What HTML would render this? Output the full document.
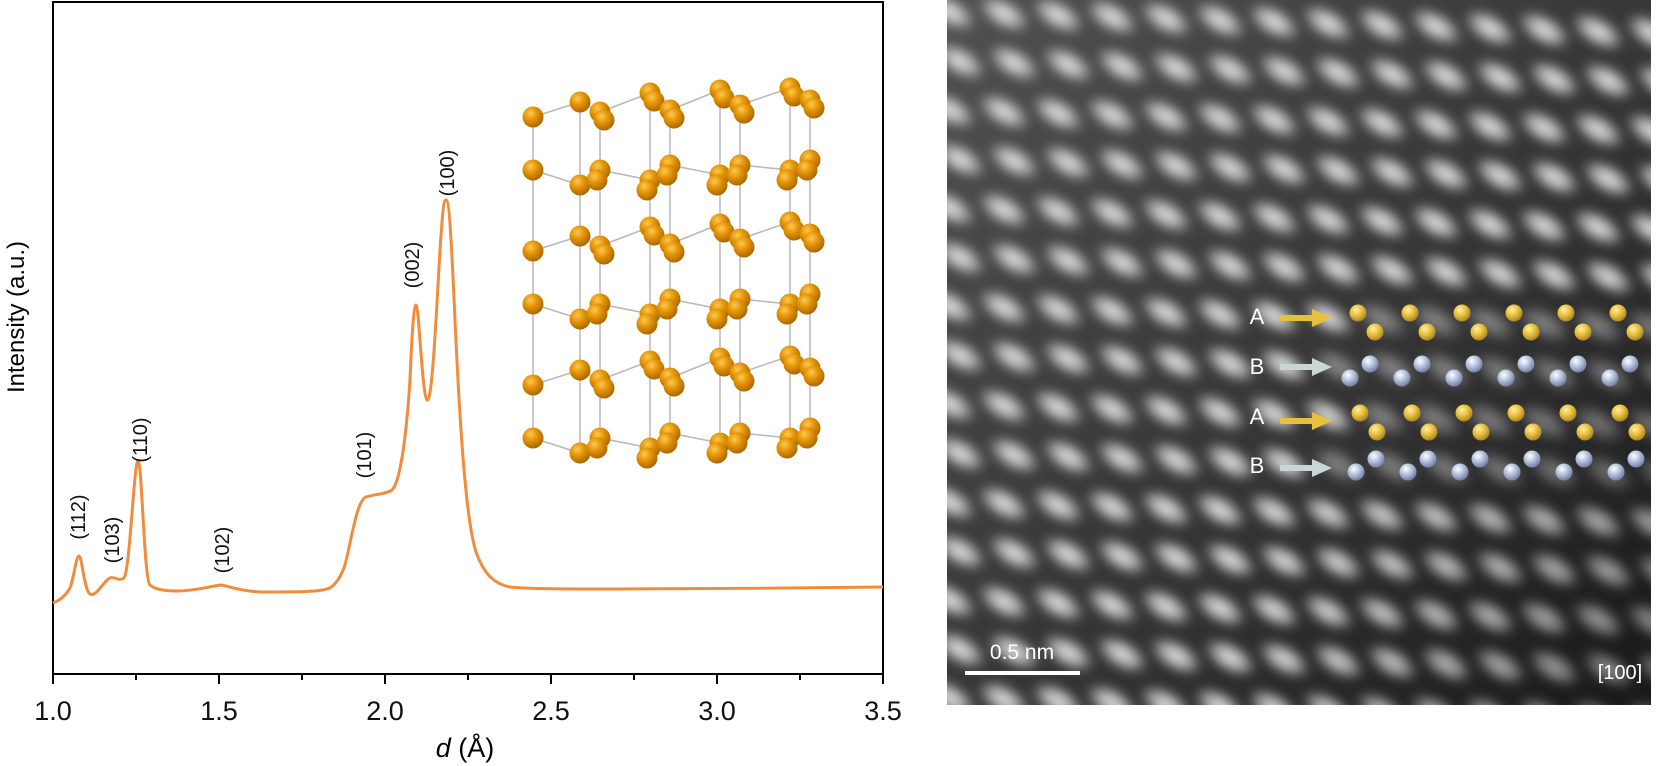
<!DOCTYPE html>
<html><head><meta charset="utf-8"><style>
html,body{margin:0;padding:0;background:#fff;}
svg{display:block;font-family:"Liberation Sans",Arial,sans-serif;}
</style></head><body>
<svg id="s" width="1658" height="766" viewBox="0 0 1658 766" xmlns="http://www.w3.org/2000/svg">
<defs>
<radialGradient id="au" cx="0.38" cy="0.32" r="0.7"><stop offset="0" stop-color="#ffc850"/><stop offset="0.5" stop-color="#e09000"/><stop offset="1" stop-color="#a86600"/></radialGradient>
<radialGradient id="ya" cx="0.38" cy="0.32" r="0.7"><stop offset="0" stop-color="#fff0a0"/><stop offset="0.5" stop-color="#e8c040"/><stop offset="1" stop-color="#a88420"/></radialGradient>
<radialGradient id="ba" cx="0.38" cy="0.32" r="0.7"><stop offset="0" stop-color="#ffffff"/><stop offset="0.5" stop-color="#b4c0dc"/><stop offset="1" stop-color="#7080a0"/></radialGradient>
<radialGradient id="blob"><stop offset="0" stop-color="#eaeaea"/><stop offset="0.5" stop-color="#c0c0c0" stop-opacity="0.85"/><stop offset="1" stop-color="#909090" stop-opacity="0"/></radialGradient>
<linearGradient id="bg" x1="0" y1="0" x2="1" y2="1"><stop offset="0" stop-color="#505050"/><stop offset="0.6" stop-color="#323232"/><stop offset="1" stop-color="#181818"/></linearGradient>
<filter id="bl" x="-30%" y="-30%" width="160%" height="160%"><feGaussianBlur stdDeviation="5"/></filter>
<clipPath id="ic"><rect x="947" y="0" width="704" height="705"/></clipPath>
</defs>
<rect x="53" y="2" width="830" height="672" fill="none" stroke="#000" stroke-width="2"/>
<g stroke="#000" stroke-width="2" id="ticks"></g>
<g font-size="27" text-anchor="middle" fill="#111">
<text x="53" y="720">1.0</text><text x="219" y="720">1.5</text><text x="385" y="720">2.0</text>
<text x="551" y="720">2.5</text><text x="717" y="720">3.0</text><text x="883" y="720">3.5</text>
</g>
<text x="465" y="757" font-size="27" text-anchor="middle"><tspan font-style="italic">d</tspan> (Å)</text>
<text transform="translate(24,317) rotate(-90)" font-size="24" text-anchor="middle">Intensity (a.u.)</text>
<path d="M53,603 C58,601 64,598 70,588 C74,578 76,556 79,556 C82,556 84,590 90,594 C96,598 104,580 110,578 C115,576 118,582 124,578 C130,570 134,461 138,461 C142,461 144,580 150,585 C156,590 165,591 180,591 C200,590 212,586 221,585 C228,586 240,591 260,592 C300,592 320,592 330,588 C336,584 340,578 344,568 C350,550 356,500 366,497 C376,494 386,494 392,490 C400,482 406,440 410,380 C412,330 414,305 416,305 C419,305 422,395 427,400 C432,404 436,320 440,250 C443,205 444,200 446,200 C449,200 451,230 455,320 C460,430 466,520 476,552 C484,574 494,584 510,587 C530,589 560,589 620,589 C700,589 800,588 883,587" fill="none" stroke="#f08c3c" stroke-width="3"/>
<g font-size="20" text-anchor="middle" fill="#111">
<text transform="translate(85,517) rotate(-90)">(112)</text>
<text transform="translate(119,540) rotate(-90)">(103)</text>
<text transform="translate(147,440) rotate(-90)">(110)</text>
<text transform="translate(229,550) rotate(-90)">(102)</text>
<text transform="translate(371,455) rotate(-90)">(101)</text>
<text transform="translate(419,265) rotate(-90)">(002)</text>
<text transform="translate(454,173) rotate(-90)">(100)</text>
</g>
<g id="crys"></g>
<g clip-path="url(#ic)">
<rect x="947" y="0" width="704" height="705" fill="url(#bg)"/>
<g id="blobs" filter="url(#bl)"></g>
</g>
<g id="ov"></g>
<g fill="#fff" font-size="22" text-anchor="middle">
<text x="1257" y="324">A</text><text x="1257" y="374">B</text><text x="1257" y="424">A</text><text x="1257" y="473">B</text>
</g>
<g>
<path d="M1280,318 h34" stroke="#e8c040" stroke-width="6"/><polygon points="1312,309 1332,318 1312,327" fill="#e8c040"/>
<path d="M1280,367 h34" stroke="#c8d6d8" stroke-width="6"/><polygon points="1312,358 1332,367 1312,376" fill="#c8d6d8"/>
<path d="M1280,421 h34" stroke="#e8c040" stroke-width="6"/><polygon points="1312,412 1332,421 1312,430" fill="#e8c040"/>
<path d="M1280,468 h34" stroke="#c8d6d8" stroke-width="6"/><polygon points="1312,459 1332,468 1312,477" fill="#c8d6d8"/>
</g>
<rect x="965" y="671" width="115" height="4" fill="#fff"/>
<text x="1022" y="659" fill="#fff" font-size="21" text-anchor="middle">0.5 nm</text>
<text x="1620" y="679" fill="#fff" font-size="20" text-anchor="middle">[100]</text>
</svg>
<script>
var NS="http://www.w3.org/2000/svg";
function el(p,t,a){var e=document.createElementNS(NS,t);for(var k in a)e.setAttribute(k,a[k]);p.appendChild(e);return e;}
var tk=document.getElementById("ticks");
for(var i=0;i<=10;i++){var x=53+i*83;el(tk,"line",{x1:x,y1:674,x2:x,y2:i%2?680:684});}
var cr=document.getElementById("crys");
var atoms=[],bonds=[];
var colX=[533,580,600,650,670,720,740,790,810];
var py=[[117,170],[102,185],[112,170],[93,180],[110,165],[90,175],[105,165],[88,170],[100,160]];
for(var c=0;c<colX.length;c++){
 for(var k=0;k<3;k++){
  var b=k*134;
  var y1=py[c][0]+b,y2=py[c][1]+b;
  var x=colX[c];
  atoms.push([x,y1]);atoms.push([x,y2]);
  if(c>=2){atoms.push([x+4,y1+8]);atoms.push([x-3,y2+10]);}
  bonds.push([x,y1,x,y2]);
  if(k<2)bonds.push([x,y2,x,py[c][0]+b+134]);
  if(c+1<colX.length)bonds.push([x,y1,colX[c+1],py[c+1][0]+b]);
  if(c+1<colX.length)bonds.push([x,y2,colX[c+1],py[c+1][1]+b]);
 }
}
var gB=el(cr,"g",{stroke:"#b8b8b8","stroke-width":1.5});
bonds.forEach(function(b){if(b[1]<500&&b[3]<500)el(gB,"line",{x1:b[0],y1:b[1],x2:b[2],y2:b[3]});});
atoms.forEach(function(a){if(a[1]<490&&a[0]<850)el(cr,"circle",{cx:a[0],cy:a[1],r:10.5,fill:"url(#au)"});});
var bg=document.getElementById("blobs");
for(var r=0;r<15;r++){
 var y=12+r*49;
 for(var c=-1;c<14;c++){
  var x=950+c*54+(r%2)*10;
  var yy=y+(x-947)*0.03;
  var op=1-0.35*Math.max(0,(x-1250)/400)*Math.max(0,(yy-250)/300);
  if(r>=6&&r<=9&&x>1330)op*=0.5;
  el(bg,"ellipse",{cx:x,cy:yy,rx:31,ry:16,fill:"url(#blob)",opacity:op.toFixed(2),transform:"rotate(30 "+x+" "+yy+")"});
 }
}
var ov=document.getElementById("ov");
function row(y1,y2,x1,x2,f){for(var i=0;i<6;i++){el(ov,"circle",{cx:x1+i*52,cy:y1,r:8.5,fill:f});el(ov,"circle",{cx:x2+i*52,cy:y2,r:8.5,fill:f});}}
row(313,332,1358,1375,"url(#ya)");
row(364,378,1370,1350,"url(#ba)");
row(413,432,1360,1377,"url(#ya)");
row(459,472,1376,1356,"url(#ba)");
</script>
</body></html>
